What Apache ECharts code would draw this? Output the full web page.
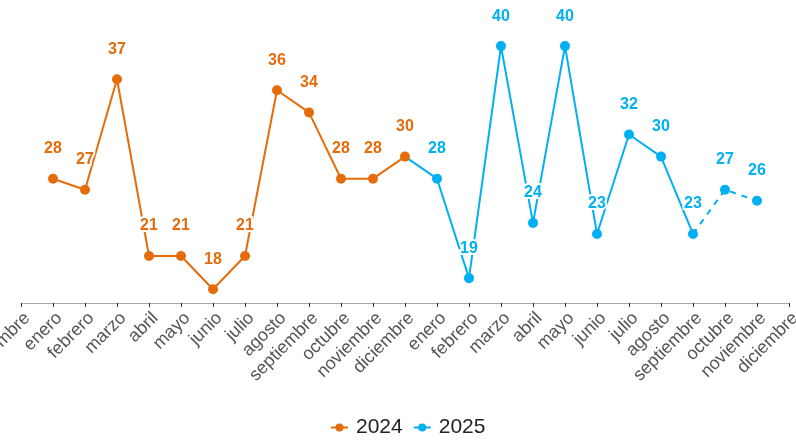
<!DOCTYPE html>
<html>
<head>
<meta charset="utf-8">
<script src="https://cdn.jsdelivr.net/npm/echarts@6/dist/echarts.min.js"></script>
<style>html,body{margin:0;padding:0;background:#fff;}#c{width:796px;height:441px;}</style>
</head>
<body>
<div id="c"></div>
<script>
const categories = ['diciembre','enero','febrero','marzo','abril','mayo','junio','julio','agosto','septiembre','octubre','noviembre','diciembre','enero','febrero','marzo','abril','mayo','junio','julio','agosto','septiembre','octubre','noviembre','diciembre'];
const values2024 = [null,28,27,37,21,21,18,21,36,34,28,28,30];
const values2025 = [28,19,40,24,40,23,32,30,23,27,26];
const dashedFrom = 8; // index in values2025 where dashed part starts (septiembre)

const orange = '#E46C0A';
const blue = '#00B0F0';

const s2024 = categories.map((c,i) => i < values2024.length ? values2024[i] : null);
const solid2025 = categories.map(() => null);
const dashed2025 = categories.map(() => null);
solid2025[12] = {value: values2024[12], symbol: 'none', label: {show: false}};
values2025.forEach((v,k) => {
  const i = 13 + k;
  if (k <= dashedFrom) solid2025[i] = v;
  if (k === dashedFrom) dashed2025[i] = {value: v, symbol: 'none', label: {show: false}};
  if (k > dashedFrom) dashed2025[i] = v;
});

const labelCfg = (color) => ({
  show: true, position: 'top', distance: 17, color: color,
  fontWeight: 'bold', fontSize: 16, fontFamily: 'Liberation Sans, Arial, sans-serif',
  textBorderColor: '#fff', textBorderWidth: 4
});

const chart = echarts.init(document.getElementById('c'));
chart.setOption({
  animation: false,
  textStyle: {fontFamily: 'Liberation Sans, Arial, sans-serif'},
  grid: {left: 21, right: 7, top: 24, bottom: 138, containLabel: false, outerBoundsMode: 'none'},
  legend: {
    data: ['2024','2025'], bottom: -2, left: 325, itemWidth: 17, itemHeight: 10, itemGap: 10,
    textStyle: {fontSize: 21, color: '#222', padding: [0, 0, 0, 3], fontFamily: 'Liberation Sans, Arial, sans-serif'}
  },
  xAxis: {
    type: 'category', data: categories, boundaryGap: false,
    axisLine: {lineStyle: {color: '#aaaaaa', width: 1}},
    axisTick: {show: true, interval: 0, length: 4, lineStyle: {color: '#333'}},
    axisLabel: {interval: 0, rotate: 45, fontSize: 18, color: '#555', margin: 6, verticalAlign: 'top', hideOverlap: false, fontFamily: 'Liberation Sans, Arial, sans-serif'}
  },
  yAxis: {
    type: 'value', min: 16.75, max: 42, show: false, splitLine: {show: false}
  },
  series: [
    {
      name: '2025', type: 'line', data: solid2025, z: 2,
      symbol: 'circle', symbolSize: 10,
      lineStyle: {color: blue, width: 2}, itemStyle: {color: blue},
      label: labelCfg(blue)
    },
    {
      name: '2025', type: 'line', data: dashed2025, z: 2,
      symbol: 'circle', symbolSize: 10,
      lineStyle: {color: blue, width: 2, type: [6, 6]}, itemStyle: {color: blue},
      label: labelCfg(blue)
    },
    {
      name: '2024', type: 'line', data: s2024, z: 3,
      symbol: 'circle', symbolSize: 10,
      lineStyle: {color: orange, width: 2}, itemStyle: {color: orange},
      label: labelCfg(orange)
    }
  ]
});
</script>
</body>
</html>
